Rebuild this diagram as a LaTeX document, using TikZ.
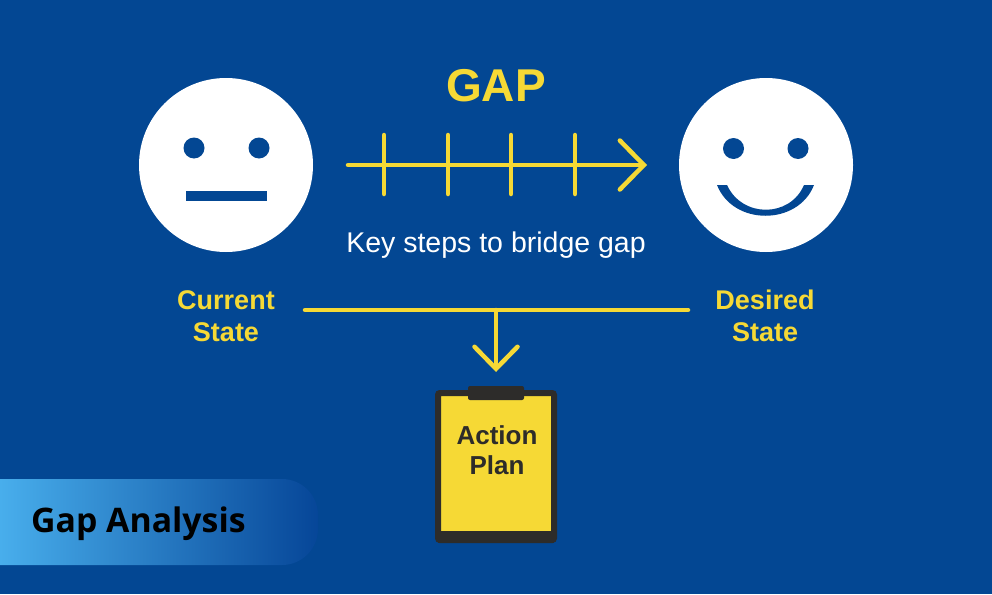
\documentclass[tikz,border=0pt]{standalone}
\usepackage{fontspec}
\setmainfont{Liberation Sans}
\newfontfamily\bandfont{Open Sans}
\usetikzlibrary{arrows.meta}
\definecolor{bgblue}{HTML}{034793}
\definecolor{gapyellow}{HTML}{F6D935}
\definecolor{boarddark}{HTML}{2D2C2A}
\definecolor{bandleft}{HTML}{48AEEC}
\definecolor{bandright}{HTML}{064698}
\tikzset{
	face/.style={circle,fill=white,minimum size=174pt,inner sep=0pt},
	eye/.style={circle,fill=bgblue,minimum size=21pt,inner sep=0pt},
	statelabel/.style={text=gapyellow,font=\fontsize{27}{32}\selectfont\bfseries,align=center},
	gapline/.style={draw=gapyellow,line width=4.5pt,line cap=round,line join=miter},
}
\begin{document}
\begin{tikzpicture}[x=1pt,y=-1pt,>={Straight Barb[length=24pt,width=49pt,line cap=round]}]
	\fill[bgblue] (0,0) rectangle (992,594);
	\useasboundingbox (0,0) rectangle (992,594);
	% faces
	\node[face] (current) at (226,165) {};
	\node[face] (desired) at (766,165) {};
	\node[eye] (currenteyel) at (194,148) {};
	\node[eye] (currenteyer) at (259,148) {};
	\node[eye] (desiredeyel) at (733.5,148.5) {};
	\node[eye] (desiredeyer) at (798,148.5) {};
	\fill[bgblue] (186,191) rectangle (267,201);
	\fill[bgblue] (717,185) -- (727,185) .. controls (742,218) and (790,218) .. (804,185) -- (814,185) .. controls (798,226) and (733,226) .. (717,185) -- cycle;
	% gap arrow
	\node[text=gapyellow,font=\fontsize{46}{50}\selectfont\bfseries] (gap) at (496,86) {GAP};
	\coordinate (stepstart) at (348,165);
	\coordinate (stepend) at (647,165);
	\draw[gapline,->] (stepstart)--(stepend);
	\foreach \x in {384,448,511,575}
		\draw[gapline] (\x,135)--(\x,194);
	\node[text=white,font=\fontsize{28.5}{32}\selectfont] (steps) at (496,245) {Key steps to bridge gap};
	% states
	\node[statelabel] (currentlabel) at (226,316) {Current\\State};
	\node[statelabel] (desiredlabel) at (765,316) {Desired\\State};
	\coordinate (barleft) at (305,310);
	\coordinate (barright) at (688,310);
	\coordinate (barmid) at (496,310);
	\draw[gapline] (barleft)--(barright);
	% clipboard
	\node[draw=boarddark,fill=gapyellow,line width=6pt,rounded corners=2pt,minimum width=116pt,minimum height=147pt,inner sep=0pt] (board) at (496,466.5) {};
	\fill[boarddark,rounded corners=2pt] (468,386) rectangle (524,400);
	\fill[boarddark] (438,531) rectangle (554,543);
	\node[text=boarddark,font=\fontsize{26}{30}\selectfont\bfseries,align=center] (plan) at (497,450) {Action\\Plan};
	\coordinate (plantop) at (496,372);
	\draw[gapline,-{Straight Barb[length=22pt,width=43pt,line cap=round]}] (barmid)--(plantop);
	% band
	\shade[left color=bandleft,right color=bandright] (0,479) {[rounded corners=36pt] -- (318,479) -- (318,565)} -- (0,565) -- cycle;
	\node[anchor=west,inner sep=0pt,text=black,font=\bandfont\fontsize{33.8}{36}\selectfont\bfseries] (band) at (31,524) {Gap Analysis};
\end{tikzpicture}
\end{document}
